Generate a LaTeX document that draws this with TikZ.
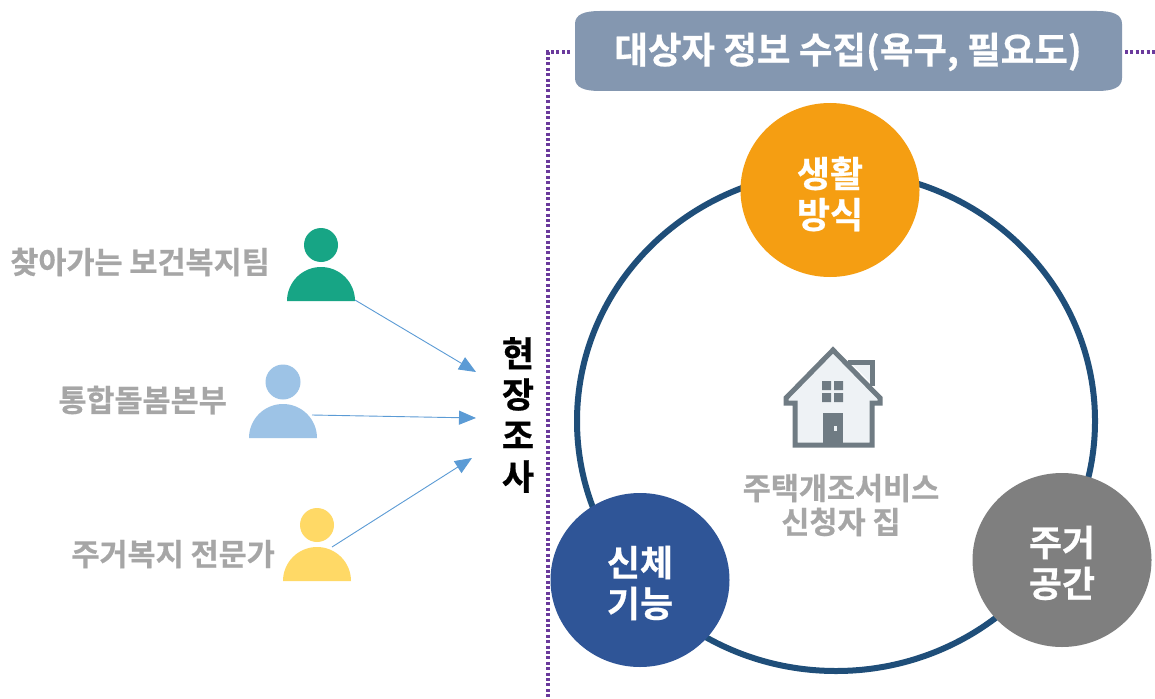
\documentclass[tikz,border=0pt]{standalone}
\usepackage{fontspec}
\setmainfont{Noto Sans CJK KR}[BoldFont={Noto Sans CJK KR Bold},BoldFeatures={FakeBold=0.6}]
\usetikzlibrary{arrows.meta,shapes.geometric}
\definecolor{ringblue}{HTML}{1F4E79}
\definecolor{framepurple}{HTML}{6A3A9C}
\definecolor{titlebg}{HTML}{8497B0}
\definecolor{orangec}{HTML}{F59E12}
\definecolor{grayc}{HTML}{7F7F7F}
\definecolor{bluec}{HTML}{2F5597}
\definecolor{pgreen}{HTML}{17A585}
\definecolor{pblue}{HTML}{9DC3E6}
\definecolor{pyellow}{HTML}{FFD966}
\definecolor{lbl}{HTML}{A6A6A6}
\definecolor{arrowc}{HTML}{5B9BD5}
\definecolor{houseline}{HTML}{6F7B83}
\definecolor{housefill}{HTML}{EEF2F5}
\tikzset{
  x=1pt,y=-1pt,
  topic/.style={ellipse,minimum width=179pt,minimum height=174pt,inner sep=0pt},
  topictext/.style={inner sep=0pt,text=white,font=\fontsize{36}{41}\selectfont\bfseries,align=center},
  head/.style={circle,minimum size=34pt,inner sep=0pt},
  plabel/.style={text=lbl,font=\fontsize{30.5}{34}\selectfont\bfseries,inner sep=0pt},
  link/.style={arrowc,line width=0.9pt,-{Triangle[length=17pt,width=14pt]}},
  frameline/.style={framepurple,line width=3.6pt,dash pattern=on 3pt off 2.4pt},
  houseedge/.style={houseline,line width=5pt,line join=miter},
}
\begin{document}
\begin{tikzpicture}
\useasboundingbox[fill=white] (0,0) rectangle (1155,698);
% dotted frame
\draw[frameline] (570,52) -- (548,52) -- (548,698);
\draw[frameline] (1125,52) -- (1155,52);
% title
\fill[titlebg] (600,11) -- (1097,11) .. controls (1112,11) and (1122,14) .. (1122,24) -- (1122,78) .. controls (1122,88) and (1112,91) .. (1097,91) -- (600,91) .. controls (585,91) and (575,88) .. (575,78) -- (575,24) .. controls (575,14) and (585,11) .. (600,11) -- cycle;
\node[inner sep=0pt,text=white,font=\fontsize{36.5}{40}\selectfont\bfseries] (title) at (848,52) {대상자 정보 수집(욕구, 필요도)};
% ring
\node[ellipse,draw=ringblue,line width=6pt,minimum width=518pt,minimum height=500pt,inner sep=0pt] (ring) at (836,421) {};
% topics
\node[topic,fill=orangec] (life) at (830,190) {};
\node[topic,fill=grayc] (space) at (1062,560) {};
\node[topic,fill=bluec] (body) at (640,580) {};
\node[topictext] (lifet) at ([yshift=-4pt]life.center) {생활\\방식};
\node[topictext] (spacet) at ([yshift=-3pt]space.center) {주거\\공간};
\node[topictext] (bodyt) at ([yshift=-3pt]body.center) {신체\\기능};
% house
\fill[housefill] (833,350) -- (786,399) -- (795,403) -- (795,445) -- (872,445) -- (872,403) -- (880,399) -- cycle;
\fill[housefill] (850,362) -- (871,362) -- (871,383) -- cycle;
\draw[houseedge] (848,362) -- (872,362) -- (872,386);
\draw[houseedge] (795,403) -- (786,403) -- (786,398) -- (833,350) -- (880,398) -- (880,403) -- (872,403) -- (872,445) -- (795,445) -- cycle;
\fill[houseline] (822,381) rectangle (831,390) (834,381) rectangle (843,390) (822,393) rectangle (831,402) (834,393) rectangle (843,402);
\fill[houseline] (823,413) rectangle (843,446);
\fill[housefill] (834,426) rectangle (837,431);
% centre text
\node[text=lbl,align=center,font=\fontsize{30.5}{34}\selectfont,inner sep=0pt] (home) at (841,505) {\bfseries 주택개조서비스\\\bfseries 신청자 집};
% people
\node[head,fill=pgreen] (h1) at (321,245) {};
\node[head,fill=pblue,minimum size=35pt] (h2) at (283,382) {};
\node[head,fill=pyellow] (h3) at (317,525) {};
\fill[pgreen] (287,301) arc[start angle=180,end angle=360,radius=34] -- cycle;
\fill[pblue] (249,438) arc[start angle=180,end angle=360,radius=34] -- cycle;
\fill[pyellow] (283,581) arc[start angle=180,end angle=360,radius=34] -- cycle;
\coordinate (b1) at (355,300);
\coordinate (b2) at (312,415);
\coordinate (b3) at (332,547);
% labels
\node[plabel,anchor=east] (l1) at (270,262) {찾아가는 보건복지팀};
\node[plabel,anchor=east] (l2) at (227,400) {통합돌봄본부};
\node[plabel,anchor=east] (l3) at (275,554) {주거복지 전문가};
% vertical
\node[inner sep=0pt,font=\fontsize{35}{41}\selectfont\bfseries,align=center] (survey) at (518,415) {현\\장\\조\\사};
% arrows
\coordinate (t1) at (476,372);
\coordinate (t2) at (476,418);
\coordinate (t3) at (472,458);
\draw[link] (b1) -- (t1);
\draw[link] (b2) -- (t2);
\draw[link] (b3) -- (t3);
\end{tikzpicture}
\end{document}
